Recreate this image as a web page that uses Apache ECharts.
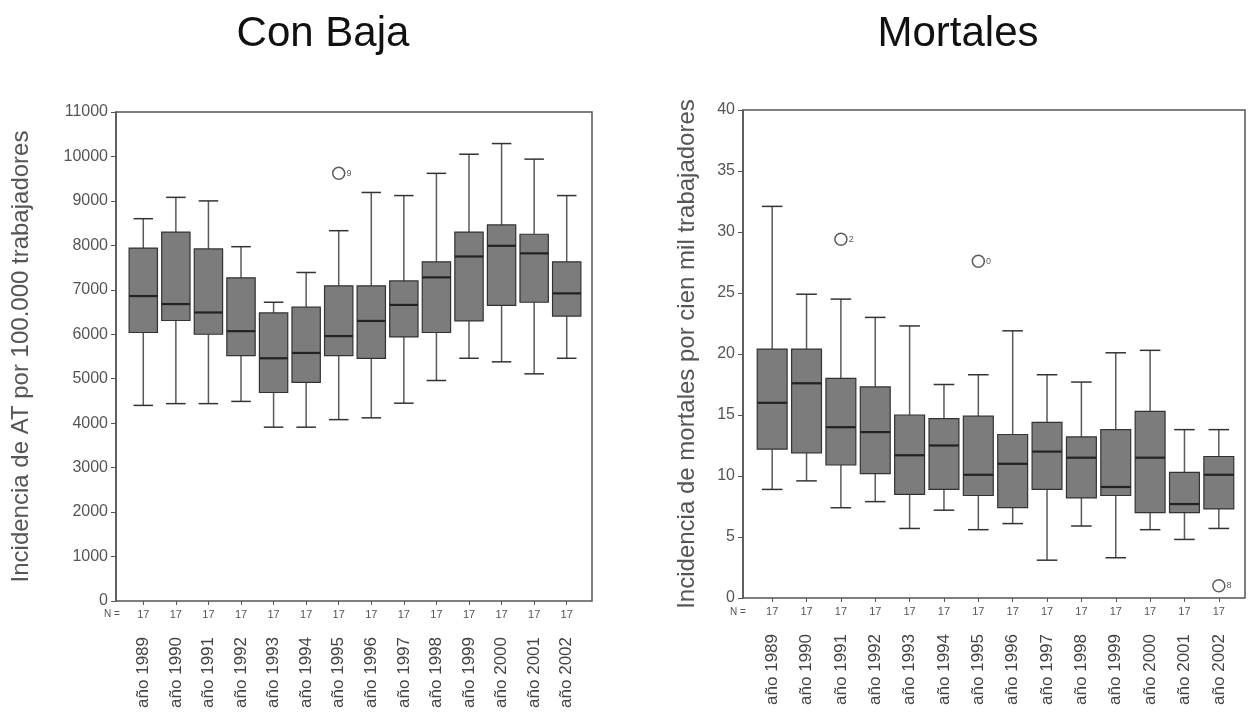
<!DOCTYPE html>
<html>
<head>
<meta charset="utf-8">
<title>Con Baja / Mortales</title>
<script src="https://cdn.jsdelivr.net/npm/echarts@6/dist/echarts.min.js"></script>
<style>
  html, body { margin: 0; padding: 0; background: #fff; }
  #chart { width: 1250px; height: 715px; }
</style>
</head>
<body>
<div id="chart"></div>
<script>
// categorias (años) y N de cada caja
var years = ['año 1989', 'año 1990', 'año 1991', 'año 1992', 'año 1993', 'año 1994', 'año 1995',
             'año 1996', 'año 1997', 'año 1998', 'año 1999', 'año 2000', 'año 2001', 'año 2002'];
var nCounts = [17, 17, 17, 17, 17, 17, 17, 17, 17, 17, 17, 17, 17, 17];

// Con Baja: [min, Q1, mediana, Q3, max]
var bajaBoxes = [
    [4400, 6040, 6860, 7940, 8600],
    [4440, 6310, 6680, 8300, 9080],
    [4440, 6000, 6490, 7920, 9000],
    [4490, 5520, 6070, 7270, 7970],
    [3910, 4690, 5460, 6480, 6720],
    [3910, 4920, 5580, 6610, 7390],
    [4080, 5520, 5960, 7090, 8330],
    [4120, 5460, 6300, 7090, 9190],
    [4450, 5940, 6660, 7200, 9120],
    [4960, 6040, 7280, 7630, 9620],
    [5460, 6300, 7750, 8300, 10050],
    [5380, 6650, 7990, 8460, 10290],
    [5110, 6720, 7820, 8250, 9940],
    [5460, 6410, 6920, 7630, 9120]
];
var bajaOutliers = [['año 1995', 9620, '9']];

// Mortales: [min, Q1, mediana, Q3, max]
var mortBoxes = [
    [8.9, 12.2, 16.0, 20.4, 32.1],
    [9.6, 11.9, 17.6, 20.4, 24.9],
    [7.4, 10.9, 14.0, 18.0, 24.5],
    [7.9, 10.2, 13.6, 17.3, 23.0],
    [5.7, 8.5, 11.7, 15.0, 22.3],
    [7.2, 8.9, 12.5, 14.7, 17.5],
    [5.6, 8.4, 10.1, 14.9, 18.3],
    [6.1, 7.4, 11.0, 13.4, 21.9],
    [3.1, 8.9, 12.0, 14.4, 18.3],
    [5.9, 8.2, 11.5, 13.2, 17.7],
    [3.3, 8.4, 9.1, 13.8, 20.1],
    [5.6, 7.0, 11.5, 15.3, 20.3],
    [4.8, 7.0, 7.7, 10.3, 13.8],
    [5.7, 7.3, 10.1, 11.6, 13.8]
];
var mortOutliers = [['año 1991', 29.4, '2'], ['año 1995', 27.6, '0'], ['año 2002', 1.0, '8']];

var FONT = 'Liberation Sans, Arial, sans-serif';

function toRows(boxes) {
    return boxes.map(function (b, i) { return [i].concat(b); });
}

function renderBox(params, api) {
    var x = api.value(0);
    var lo = api.coord([x, api.value(1)]);
    var q1 = api.coord([x, api.value(2)]);
    var md = api.coord([x, api.value(3)]);
    var q3 = api.coord([x, api.value(4)]);
    var hi = api.coord([x, api.value(5)]);
    var band = api.size([1, 0])[0];
    var bw = band * 0.87, cw = band * 0.6;
    var cx = lo[0];
    var whisker = { stroke: '#5a5a5a', lineWidth: 1.5 };
    var cap = { stroke: '#333', lineWidth: 1.5 };
    return {
        type: 'group',
        children: [
            { type: 'line', shape: { x1: cx, y1: q3[1], x2: cx, y2: hi[1] }, style: whisker },
            { type: 'line', shape: { x1: cx, y1: q1[1], x2: cx, y2: lo[1] }, style: whisker },
            { type: 'line', shape: { x1: cx - cw / 2, y1: hi[1], x2: cx + cw / 2, y2: hi[1] }, style: cap },
            { type: 'line', shape: { x1: cx - cw / 2, y1: lo[1], x2: cx + cw / 2, y2: lo[1] }, style: cap },
            { type: 'rect', shape: { x: cx - bw / 2, y: q3[1], width: bw, height: q1[1] - q3[1] },
              style: { fill: '#7c7c7c', stroke: '#333', lineWidth: 1.2 } },
            { type: 'line', shape: { x1: cx - bw / 2, y1: md[1], x2: cx + bw / 2, y2: md[1] },
              style: { stroke: '#222', lineWidth: 2.2 } }
        ]
    };
}

function countAxis(grid) {
    return {
        type: 'category', gridIndex: grid, data: years, position: 'bottom',
        axisLine: { show: false },
        axisTick: { show: true, alignWithLabel: true, length: 4, lineStyle: { color: '#555' } },
        axisLabel: {
            formatter: function (v, i) { return String(nCounts[i]); },
            fontSize: 11, color: '#555', margin: 8, fontFamily: FONT
        }
    };
}

function yearAxis(grid) {
    return {
        type: 'category', gridIndex: grid, data: years, position: 'bottom',
        axisLine: { show: false }, axisTick: { show: false },
        axisLabel: { rotate: 90, fontSize: 17, color: '#444', margin: 36, fontFamily: FONT }
    };
}

function valueAxis(grid, max, step, name, gap, visible) {
    return {
        type: 'value', gridIndex: grid, min: 0, max: max, interval: step, show: visible,
        name: name, nameLocation: 'middle', nameGap: gap, nameRotate: 90,
        nameTextStyle: { fontSize: 24, color: '#555', fontFamily: FONT },
        splitLine: { show: false },
        axisLine: { show: true, lineStyle: { color: '#555', width: 1.5 } },
        axisTick: { show: true, length: 5, lineStyle: { color: '#555' } },
        axisLabel: {
            fontSize: 16, color: '#555', margin: 8, fontFamily: FONT,
            formatter: function (v) { return String(v); }
        }
    };
}

function outlierSeries(data, xi, yi) {
    return {
        type: 'scatter', xAxisIndex: xi, yAxisIndex: yi, data: data,
        symbol: 'circle', symbolSize: 12,
        itemStyle: { color: '#fff', borderColor: '#333', borderWidth: 1.5 },
        label: {
            show: true, position: 'right', distance: 1, fontSize: 9, color: '#333',
            formatter: function (p) { return p.value[2]; }
        }
    };
}

var option = {
    backgroundColor: '#fff',
    animation: false,
    title: [
        { text: 'Con Baja', left: 318, top: 8, textAlign: 'center',
          textStyle: { fontSize: 42, fontWeight: 'normal', color: '#111', fontFamily: FONT } },
        { text: 'Mortales', left: 953, top: 8, textAlign: 'center',
          textStyle: { fontSize: 42, fontWeight: 'normal', color: '#111', fontFamily: FONT } }
    ],
    grid: [
        { left: 116, top: 112, width: 476, height: 489, show: true, borderColor: '#555', borderWidth: 1.5 },
        { left: 127, top: 112, width: 456, height: 489 },
        { left: 743, top: 110, width: 502, height: 488, show: true, borderColor: '#555', borderWidth: 1.5 },
        { left: 755, top: 110, width: 481, height: 488 }
    ],
    xAxis: [
        { type: 'value', gridIndex: 0, show: false },
        countAxis(1),
        yearAxis(1),
        { type: 'value', gridIndex: 2, show: false },
        countAxis(3),
        yearAxis(3)
    ],
    yAxis: [
        valueAxis(0, 11000, 1000, 'Incidencia de AT por 100.000 trabajadores', 83, true),
        valueAxis(1, 11000, 1000, '', 0, false),
        valueAxis(2, 40, 5, 'Incidencia de mortales por cien mil trabajadores', 44, true),
        valueAxis(3, 40, 5, '', 0, false)
    ],
    graphic: [
        { type: 'text', left: 104, top: 609, style: { text: 'N =', fill: '#555', font: '10px ' + FONT } },
        { type: 'text', left: 730, top: 607, style: { text: 'N =', fill: '#555', font: '10px ' + FONT } }
    ],
    series: [
        { type: 'custom', xAxisIndex: 1, yAxisIndex: 1, renderItem: renderBox,
          data: toRows(bajaBoxes), encode: { x: 0, y: [1, 2, 3, 4, 5] } },
        outlierSeries(bajaOutliers, 1, 1),
        { type: 'custom', xAxisIndex: 4, yAxisIndex: 3, renderItem: renderBox,
          data: toRows(mortBoxes), encode: { x: 0, y: [1, 2, 3, 4, 5] } },
        outlierSeries(mortOutliers, 4, 3)
    ]
};

echarts.init(document.getElementById('chart')).setOption(option);
</script>
</body>
</html>
